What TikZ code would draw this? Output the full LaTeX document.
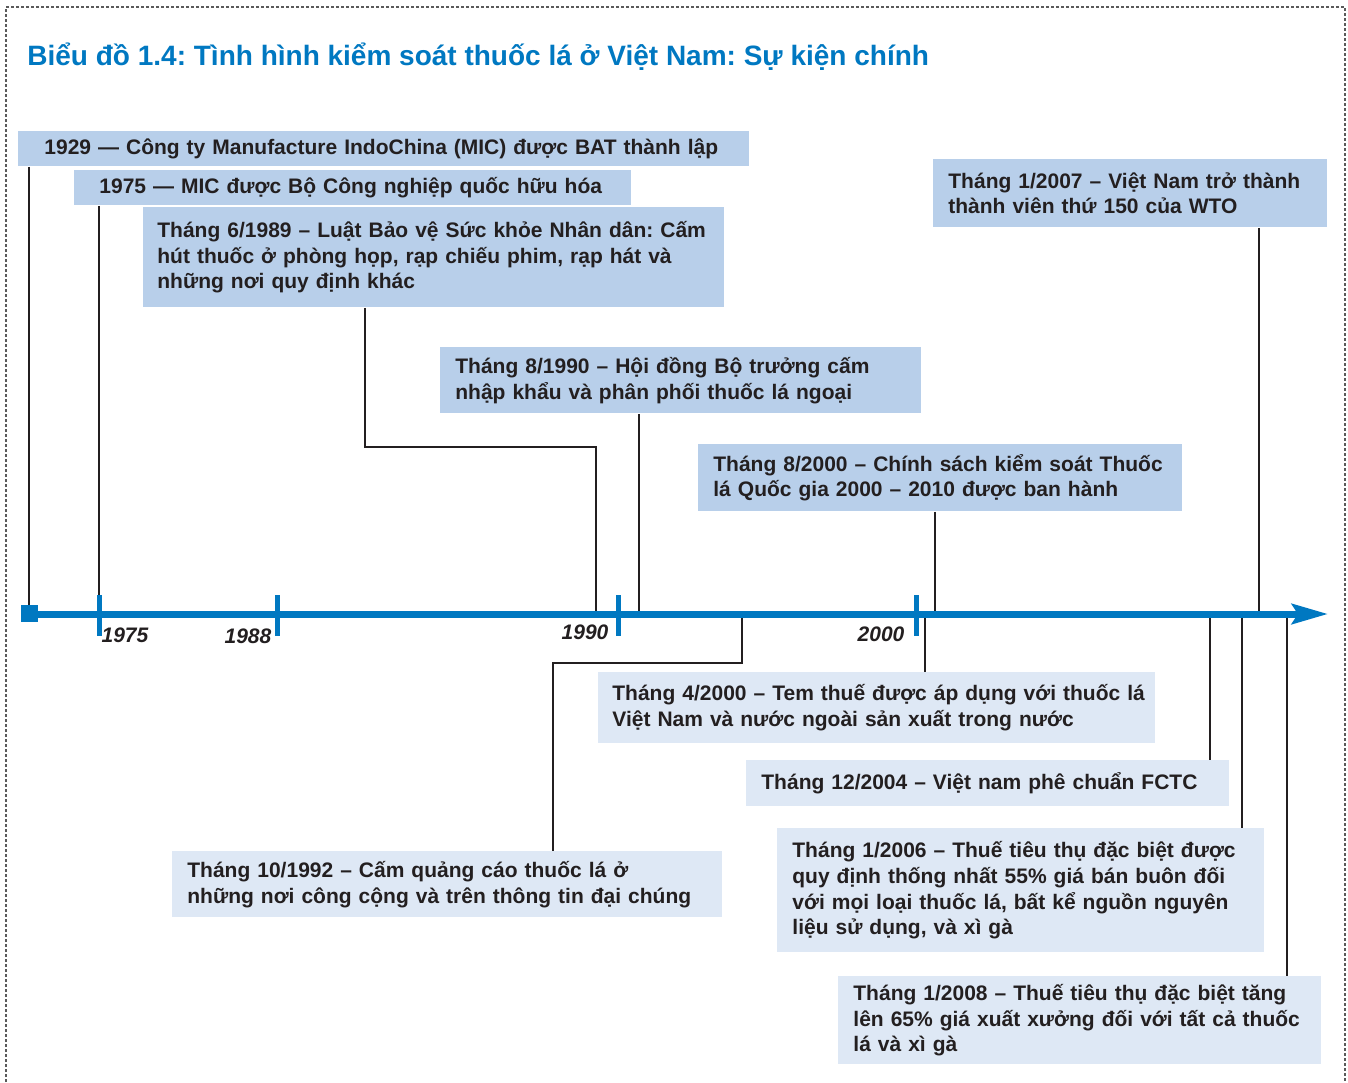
\documentclass[tikz,border=0pt]{standalone}
\usepackage{fontspec}
\setmainfont{Liberation Sans}
\usepackage{xcolor}
\usepackage{tikz}
\usetikzlibrary{arrows.meta, positioning, calc}
\frenchspacing
\definecolor{axisblue}{RGB}{0,120,193}
\definecolor{boxdark}{RGB}{184,207,234}
\definecolor{boxlight}{RGB}{222,232,245}
\definecolor{inkblack}{RGB}{35,31,32}
\definecolor{framegray}{RGB}{90,90,90}
\tikzset{
  eventU/.style={rectangle, anchor=north west, align=left, fill=boxdark, inner xsep=7.5pt, inner ysep=0pt, font=\fontsize{10.5}{12.8}\selectfont\bfseries, text=inkblack},
  eventL/.style={eventU, fill=boxlight},
  link/.style={draw=inkblack, line width=1pt},
  axisline/.style={draw=axisblue, line width=3.5pt, -{Stealth[length=18pt, width=10pt, inset=3pt]}},
  yeartick/.style={draw=axisblue, line width=2.5pt},
  yearlabel/.style={font=\fontsize{10.5}{12}\selectfont\bfseries\itshape, text=inkblack, inner sep=0pt},
}

\begin{document}
\begin{tikzpicture}[x=0.5pt, y=-0.5pt]
\useasboundingbox (0,0) rectangle (1348,1082);
\draw[framegray, dash pattern=on 1.5pt off 1pt, line width=0.6pt] (6,1082) -- (6,7) -- (1345,7) -- (1345,1082);
\node (title) [anchor=base west, inner sep=0pt, font=\fontsize{14}{16}\selectfont\bfseries, text=axisblue] at (27,65) {Biểu đồ 1.4: Tình hình kiểm soát thuốc lá ở Việt Nam: Sự kiện chính};

% events above the axis
\node (b1929) [eventU, inner xsep=13pt, text width=339.5pt, minimum height=17.5pt] at (18,131) {1929 — Công ty Manufacture IndoChina (MIC) được BAT thành lập};
\node (b1975) [eventU, inner xsep=12.5pt, text width=253.5pt, minimum height=17.5pt] at (74,170) {1975 — MIC được Bộ Công nghiệp quốc hữu hóa};
\node (b1989) [eventU, inner xsep=5pt, text width=280.5pt, minimum height=50pt] at (143,207) {\hspace*{2pt}Tháng 6/1989 – Luật Bảo vệ Sức khỏe Nhân dân: Cấm\\\hspace*{2pt}hút thuốc ở phòng họp, rạp chiếu phim, rạp hát và\\\hspace*{2pt}những nơi quy định khác};
\node (b1990) [eventU, text width=225.5pt, minimum height=33pt] at (440,347) {Tháng 8/1990 – Hội đồng Bộ trưởng cấm\\nhập khẩu và phân phối thuốc lá ngoại};
\node (b2000) [eventU, text width=227pt, minimum height=33.5pt] at (698,444) {Tháng 8/2000 – Chính sách kiểm soát Thuốc\\lá Quốc gia 2000 – 2010 được ban hành};
\node (b2007) [eventU, text width=182pt, minimum height=34pt] at (933,159) {Tháng 1/2007 – Việt Nam trở thành\\thành viên thứ 150 của WTO};

% events below the axis
\node (l2000) [eventL, inner xsep=4pt, text width=270.5pt, minimum height=35.5pt] at (598,672) {\hspace*{3pt}Tháng 4/2000 – Tem thuế được áp dụng với thuốc lá\\\hspace*{3pt}Việt Nam và nước ngoài sản xuất trong nước};
\node (l2004) [eventL, text width=226.5pt, minimum height=23pt] at (746,760) {Tháng 12/2004 – Việt nam phê chuẩn FCTC};
\node (l2006) [eventL, text width=228.5pt, minimum height=62pt] at (777,828) {Tháng 1/2006 – Thuế tiêu thụ đặc biệt được\\quy định thống nhất 55\% giá bán buôn đối\\với mọi loại thuốc lá, bất kể nguồn nguyên\\liệu sử dụng, và xì gà};
\node (l2008) [eventL, text width=226.5pt, minimum height=44pt] at (838,976) {Tháng 1/2008 – Thuế tiêu thụ đặc biệt tăng\\lên 65\% giá xuất xưởng đối với tất cả thuốc\\lá và xì gà};
\node (l1992) [eventL, text width=260pt, minimum height=33pt] at (172,851) {Tháng 10/1992 – Cấm quảng cáo thuốc lá ở\\những nơi công cộng và trên thông tin đại chúng};

% points on the axis
\coordinate (axstart) at (30,614);
\coordinate (axend) at (1328,614);
\coordinate (m1929) at (29,614);
\coordinate (m1975) at (99,614);
\coordinate (m1989) at (596,614);
\coordinate (k1989) at (365,447);
\coordinate (m1990) at (639,614);
\coordinate (m2000) at (935,614);
\coordinate (m2007) at (1259,614);
\coordinate (n2000) at (925,614);
\coordinate (m1992) at (742,614);
\coordinate (k1992) at (553,663);
\coordinate (m2004) at (1210,614);
\coordinate (m2006) at (1242,614);
\coordinate (m2008) at (1287,614);

% connectors
\draw[link] (m1929 |- b1929.south) -- (m1929);
\draw[link] (m1975 |- b1975.south) -- (m1975);
\draw[link] (k1989 |- b1989.south) -- (k1989) -| (m1989);
\draw[link] (m1990 |- b1990.south) -- (m1990);
\draw[link] (m2000 |- b2000.south) -- (m2000);
\draw[link] (m2007 |- b2007.south) -- (m2007);
\draw[link] (n2000) -- (n2000 |- l2000.north);
\draw[link] (m1992) |- (k1992) -- (k1992 |- l1992.north);
\draw[link] (m2004) -- (m2004 |- l2004.north);
\draw[link] (m2006) -- (m2006 |- l2006.north);
\draw[link] (m2008) -- (m2008 |- l2008.north);

% time axis
\draw[axisline] (axstart) -- (axend);
\node (origin) [fill=axisblue, minimum size=8.5pt, inner sep=0pt] at (29.5,613.5) {};
\foreach \x/\yr/\lx/\ly in {99/1975/125/635, 277/1988/248/636, 618/1990/585/632, 916/2000/881/634} {
  \draw[yeartick] (\x,595) -- (\x,636);
  \node (y\yr) [yearlabel] at (\lx,\ly) {\yr};
}
\end{tikzpicture}
\end{document}
